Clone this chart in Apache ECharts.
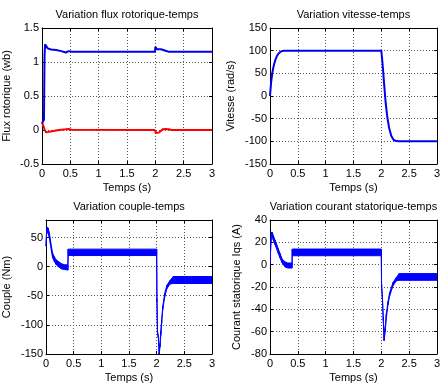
<!DOCTYPE html>
<html>
<head>
<meta charset="utf-8">
<title>Commande vectorielle - MAS</title>
<script src="https://cdn.jsdelivr.net/npm/echarts@6/dist/echarts.min.js"></script>
<style>
  html, body { margin: 0; padding: 0; background: #fff; }
  #main { width: 443px; height: 384px; }
</style>
</head>
<body>
<div id="main"></div>
<script>
// flux rotorique : bleu = phi_rd, rouge = phi_rq
var phiRdT = [0, 0.035, 0.045, 0.055, 0.065, 0.1, 0.16, 0.25, 0.34, 0.42, 0.47, 0.53, 1.995, 2.0, 2.03, 2.06, 2.1, 2.13, 2.18, 2.23, 3];
var phiRd  = [0.1, 0.15, 1.1, 1.26, 1.262, 1.2, 1.185, 1.175, 1.16, 1.14, 1.16, 1.152, 1.152, 1.225, 1.187, 1.196, 1.187, 1.176, 1.166, 1.152, 1.152];
var phiRqT = [0, 0.02, 0.04, 0.07, 0.1, 0.2, 0.3, 0.42, 0.47, 0.52, 1.99, 2.01, 2.04, 2.07, 2.1, 2.13, 2.18, 2.24, 2.28, 3];
var phiRq  = [0.11, 0.07, 0.02, -0.035, -0.02, -0.015, 0, 0.01, 0.015, 0.003, 0, -0.045, -0.03, -0.035, -0.015, 0.01, 0.015, 0.01, 0, 0];

// vitesse (rad/s)
var speedT = [0, 0.02, 0.04, 0.06, 0.08, 0.1, 0.12, 0.15, 0.2, 0.25, 0.3, 2.0, 2.02, 2.05, 2.08, 2.11, 2.14, 2.18, 2.22, 2.27, 2.32, 3];
var speed  = [0, 30, 50, 63, 73, 81, 87, 93, 98.5, 100, 100, 100, 75, 28, -17, -48, -70, -88, -96.5, -99.5, -100, -100];

// couple (Nm) : enveloppe basse / haute de l'ondulation
var coupleT  = [0, 0.01, 0.025, 0.04, 0.06, 0.08, 0.1, 0.12, 0.15, 0.18, 0.22, 0.28, 0.34, 0.395, 0.4, 1.995, 2.0, 2.005, 2.015, 2.03, 2.045, 2.06, 2.075, 2.09, 2.11, 2.145, 2.185, 2.24, 2.3, 3];
var coupleLo = [35, 55, 60, 57, 50, 38, 25, 15, 9, 4, 0, -4, -5, -6, 19, 19, 19, -60, -115, -122, -150, -138, -118, -98, -74, -52, -38, -30, -29, -29];
var coupleHi = [38, 62, 68, 66, 58, 46, 33, 23, 17, 12, 9, 5, 3, 3, 30, 30, 30, -56, -111, -118, -146, -132, -110, -92, -68, -46, -32, -24, -17, -17];

// courant statorique Iqs (A)
var iqsT  = [0, 0.01, 0.025, 0.04, 0.06, 0.09, 0.12, 0.15, 0.18, 0.22, 0.27, 0.32, 0.395, 0.4, 1.995, 2.0, 2.005, 2.02, 2.035, 2.05, 2.07, 2.09, 2.12, 2.15, 2.21, 2.27, 2.32, 3];
var iqsLo = [0, 12, 25, 25, 22, 18, 14, 10, 6, 1.5, -2, -3, -3, 8, 8, 8, -20, -31, -50, -68, -60, -48, -36, -28, -19, -14.5, -14, -14];
var iqsHi = [0, 16, 29, 29, 26, 22, 18, 14, 10, 5, 2.5, 1.5, 1.5, 14, 14, 14, -17, -28, -47, -64, -56, -44, -33, -25, -16, -11.5, -8, -8];

var titles = ['Variation flux rotorique-temps', 'Variation vitesse-temps', 'Variation couple-temps', 'Variation courant statorique-temps'];
var yNames = ['Flux rotorique (wb)', 'Vitesse (rad/s)', 'Couple (Nm)', 'Courant statorique Iqs (A)'];
var yMin = [-0.5, -150, -150, -80];
var yMax = [1.5, 150, 80, 40];
var yStep = [0.5, 50, 50, 20];
var yGap = [30, 34, 34, 28];

var font = 'Liberation Sans, Arial, sans-serif';
var myChart = echarts.init(document.getElementById('main'));

var grids = [
    { left: 39, top: 28, width: 173, height: 136 },
    { left: 270, top: 28, width: 169, height: 136 },
    { left: 39, top: 220, width: 173, height: 136 },
    { left: 270, top: 220, width: 169, height: 136 }
];

function pairs(t, v) {
    var d = [];
    for (var i = 0; i < t.length; i++) d.push([t[i], v[i]]);
    return d;
}
// segments de bande : [t0, lo0, hi0, t1, lo1, hi1]
function band(t, lo, hi) {
    var d = [];
    for (var i = 0; i < t.length - 1; i++) d.push([t[i], lo[i], hi[i], t[i + 1], lo[i + 1], hi[i + 1]]);
    return d;
}
function renderBand(params, api) {
    var pts = [
        api.coord([api.value(0), api.value(1)]),
        api.coord([api.value(3), api.value(4)]),
        api.coord([api.value(3), api.value(5)]),
        api.coord([api.value(0), api.value(2)])
    ];
    return { type: 'polygon', shape: { points: pts }, style: { fill: '#0000ff', stroke: '#0000ff', lineWidth: 1 } };
}

var axLine = { onZero: false, lineStyle: { color: '#000', width: 1 } };
var axTick = { inside: true, length: 3, lineStyle: { color: '#000' } };
var txt = { color: '#000', fontSize: 11, fontFamily: font };

var xAxes = [], yAxes = [];
for (var g = 0; g < 4; g++) {
    xAxes.push({
        type: 'value', gridIndex: g, min: 0, max: 3, interval: 0.5, position: 'bottom',
        name: 'Temps (s)', nameLocation: 'middle', nameGap: 18, nameTextStyle: txt,
        axisLine: axLine, axisTick: axTick,
        axisLabel: { color: '#000', fontSize: 11, fontFamily: font, margin: 4 },
        splitLine: { show: true, lineStyle: { color: '#555', type: [1, 2] } }
    });
    xAxes.push({
        type: 'value', gridIndex: g, min: 0, max: 3, interval: 0.5, position: 'top',
        name: titles[g], nameLocation: 'middle', nameGap: 8, nameTextStyle: txt,
        axisLine: axLine, axisTick: axTick, axisLabel: { show: false }, splitLine: { show: false }
    });
    yAxes.push({
        type: 'value', gridIndex: g, min: yMin[g], max: yMax[g], interval: yStep[g], position: 'left',
        name: yNames[g], nameLocation: 'middle', nameGap: yGap[g], nameRotate: 90, nameTextStyle: txt,
        axisLine: axLine, axisTick: axTick,
        axisLabel: { color: '#000', fontSize: 11, fontFamily: font, margin: 3, showMaxLabel: g !== 2 },
        splitLine: { show: true, lineStyle: { color: '#555', type: [1, 2] } }
    });
    yAxes.push({
        type: 'value', gridIndex: g, min: yMin[g], max: yMax[g], interval: yStep[g], position: 'right',
        axisLine: axLine, axisTick: axTick, axisLabel: { show: false }, splitLine: { show: false }
    });
}

var option = {
    animation: false,
    grid: grids,
    xAxis: xAxes,
    yAxis: yAxes,
    series: [
        { type: 'line', xAxisIndex: 0, yAxisIndex: 0, symbol: 'none', data: pairs(phiRqT, phiRq), lineStyle: { color: '#ff0000', width: 2 } },
        { type: 'line', xAxisIndex: 0, yAxisIndex: 0, symbol: 'none', data: pairs(phiRdT, phiRd), lineStyle: { color: '#0000ee', width: 2 } },
        { type: 'line', xAxisIndex: 2, yAxisIndex: 2, symbol: 'none', data: pairs(speedT, speed), lineStyle: { color: '#0000ee', width: 2 } },
        { type: 'custom', xAxisIndex: 4, yAxisIndex: 4, clip: true, renderItem: renderBand, encode: { x: [0, 3], y: [1, 2, 4, 5] }, data: band(coupleT, coupleLo, coupleHi) },
        { type: 'custom', xAxisIndex: 6, yAxisIndex: 6, clip: true, renderItem: renderBand, encode: { x: [0, 3], y: [1, 2, 4, 5] }, data: band(iqsT, iqsLo, iqsHi) }
    ]
};

myChart.setOption(option);
</script>
</body>
</html>
